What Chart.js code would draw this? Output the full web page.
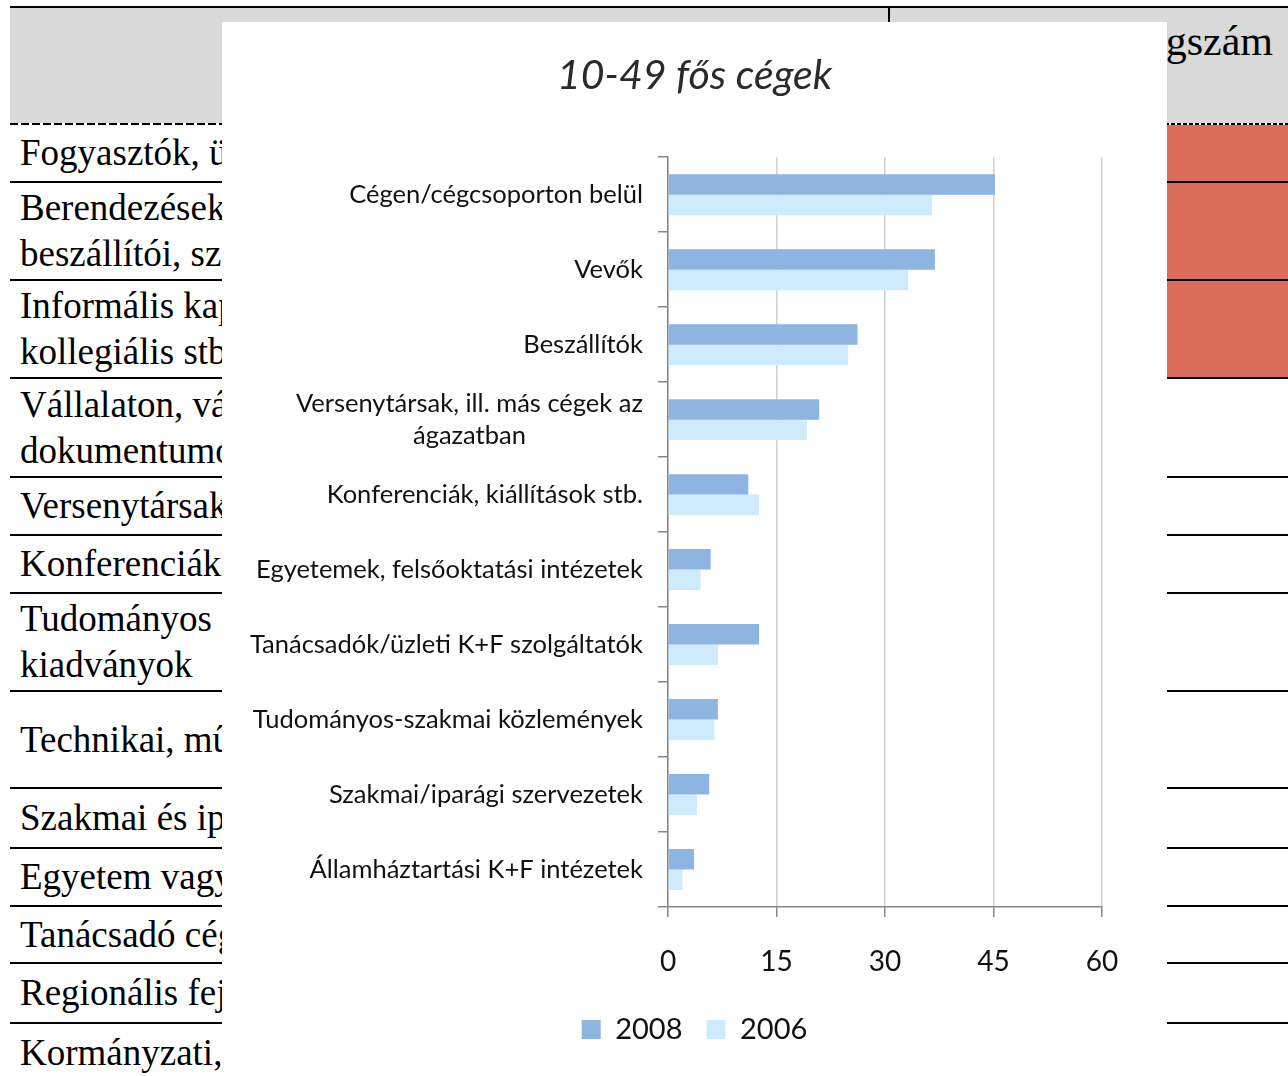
<!DOCTYPE html>
<html lang="hu">
<head>
<meta charset="utf-8">
<title>10-49 fős cégek</title>
<script src="https://cdn.jsdelivr.net/npm/chart.js@4.4.1/dist/chart.umd.min.js"></script>
<style>
  html, body { margin: 0; padding: 0; background: #fff; }
  body {
    width: 1288px; height: 1076px; position: relative; overflow: hidden;
    font-family: "Liberation Serif", "Times New Roman", serif; color: #000;
  }
  .head { position: absolute; left: 10px; right: 0; top: 8px; height: 115px; background: #d9d9d9; }
  .topline { position: absolute; left: 10px; right: 0; top: 6px; height: 2px; background: #000; }
  .vline { position: absolute; left: 888px; top: 6px; width: 2px; height: 20px; background: #000; }
  .dash-l { position: absolute; left: 10px; width: 879px; top: 123px; height: 2px;
    background: repeating-linear-gradient(to right, #000 0 8px, transparent 8px 11px); }
  .dash-r { position: absolute; left: 889px; right: 0; top: 123px; height: 2px;
    background: repeating-linear-gradient(to right, #000 0 4px, transparent 4px 6px); }
  .red { position: absolute; left: 889px; right: 0; top: 125px; height: 253px; background: #db6b5a; }
  .hline { position: absolute; left: 10px; right: 0; height: 2px; background: #000; }
  .cell {
    position: absolute; left: 10px; width: 212px; overflow: hidden;
    display: flex; flex-direction: column; justify-content: center;
    padding-left: 10px; box-sizing: border-box; white-space: nowrap;
    font-size: 37px; line-height: 46px;
  }
  .hdr {
    position: absolute; left: 1167px; top: 17px; width: 121px; overflow: hidden;
    white-space: nowrap; font-size: 42px; line-height: 48px;
    direction: rtl; text-align: left;
  }
  .hdr span { direction: ltr; unicode-bidi: embed; padding-right: 15px; display: inline-block; }
  #panel { position: absolute; left: 222px; top: 22px; width: 945px; height: 1054px; background: #fff; }
</style>
</head>
<body>
<div class="topline"></div>
<div class="head"></div>
<div class="vline"></div>
<div class="dash-l"></div>
<div class="dash-r"></div>
<div class="red"></div>
<div class="hdr"><span>Cégszám</span></div>

<div class="hline" style="top:181px"></div>
<div class="hline" style="top:279px"></div>
<div class="hline" style="top:377px"></div>
<div class="hline" style="top:476px"></div>
<div class="hline" style="top:534px"></div>
<div class="hline" style="top:592px"></div>
<div class="hline" style="top:690px"></div>
<div class="hline" style="top:787px"></div>
<div class="hline" style="top:847px"></div>
<div class="hline" style="top:905px"></div>
<div class="hline" style="top:962px"></div>
<div class="hline" style="top:1022px"></div>

<div class="cell" style="top:125px;height:56px">Fogyasztók, ügyfelek</div>
<div class="cell" style="top:183px;height:96px">Berendezések, anyagok<br>beszállítói, szoftverek</div>
<div class="cell" style="top:281px;height:96px">Informális kapcsolatok,<br>kollegiális stb.</div>
<div class="cell" style="top:379px;height:97px">Vállalaton, vállalatcsoporton belüli<br>dokumentumok</div>
<div class="cell" style="top:478px;height:56px">Versenytársak</div>
<div class="cell" style="top:536px;height:56px">Konferenciák, kiállítások</div>
<div class="cell" style="top:594px;height:96px">Tudományos folyóiratok,<br>kiadványok</div>
<div class="cell" style="top:692px;height:95px">Technikai, műszaki szabványok</div>
<div class="cell" style="top:789px;height:58px">Szakmai és iparági szövetségek</div>
<div class="cell" style="top:849px;height:56px">Egyetem vagy felsőoktatási intézmény</div>
<div class="cell" style="top:907px;height:55px">Tanácsadó cégek</div>
<div class="cell" style="top:964px;height:58px">Regionális fejlesztési ügynökségek</div>
<div class="cell" style="top:1024px;height:58px">Kormányzati, közfinanszírozású intézetek</div>

<div id="panel"><canvas id="chart" width="945" height="1054"></canvas></div>

<script>
const TITLE = '10-49 fős cégek';

const CATEGORIES = [
  'Cégen/cégcsoporton belül',
  'Vevők',
  'Beszállítók',
  ['Versenytársak, ill. más cégek az', 'ágazatban'],
  'Konferenciák, kiállítások stb.',
  'Egyetemek, felsőoktatási intézetek',
  'Tanácsadók/üzleti K+F szolgáltatók',
  'Tudományos-szakmai közlemények',
  'Szakmai/iparági szervezetek',
  'Államháztartási K+F intézetek',
];

const SERIES_2008 = [45.2, 36.9, 26.2, 20.9, 11.1, 5.9, 12.6, 6.9, 5.7, 3.6];
const SERIES_2006 = [36.5, 33.2, 24.9, 19.2, 12.6, 4.5, 6.9, 6.4, 4.0, 2.0];

const X_TICKS = [0, 15, 30, 45, 60];

const LABEL_FONT = 'Lato';

// Excel centres the lines of a wrapped category label; Chart.js right-aligns them.
const centerMultiline = {
  id: 'centerMultiline',
  beforeDraw(chart) {
    const scale = chart.scales.y;
    const items = scale.getLabelItems();
    const ctx = chart.ctx;
    ctx.save();
    ctx.font = Chart.helpers.toFont(scale.options.ticks.font).string;
    items.forEach((item) => {
      if (!Array.isArray(item.label) || item._centered) return;
      const w = Math.max(...item.label.map((l) => ctx.measureText(l).width));
      item.options.textAlign = 'center';
      item.options.translation[0] -= w / 2;
      item._centered = true;
    });
    ctx.restore();
  },
};

new Chart(document.getElementById('chart'), {
  type: 'bar',
  data: {
    labels: CATEGORIES,
    datasets: [
      {
        label: '2008',
        data: SERIES_2008,
        backgroundColor: '#8eb4e2',
        borderWidth: 0,
        categoryPercentage: 0.546,
        barPercentage: 1,
      },
      {
        label: '2006',
        data: SERIES_2006,
        backgroundColor: '#cdebfc',
        borderWidth: 0,
        categoryPercentage: 0.546,
        barPercentage: 1,
      },
    ],
  },
  options: {
    indexAxis: 'y',
    responsive: false,
    animation: false,
    layout: { padding: { left: 20, right: 20, top: 0, bottom: 22 } },
    plugins: {
      title: {
        display: true,
        text: TITLE,
        color: '#2a2a2a',
        font: { family: LABEL_FONT, size: 41, style: 'italic', weight: 'normal' },
        padding: { top: 29, bottom: 57 },
      },
      legend: {
        position: 'bottom',
        labels: {
          boxWidth: 19,
          boxHeight: 19,
          padding: 24,
          color: '#111',
          font: { family: LABEL_FONT, size: 29 },
        },
      },
      tooltip: { enabled: false },
    },
    scales: {
      x: {
        min: 0,
        max: 60,
        afterBuildTicks: (scale) => {
          scale.ticks = X_TICKS.map((v) => ({ value: v }));
        },
        afterFit: (scale) => {
          scale.height = 84;
        },
        grid: { color: '#cfcfcf', lineWidth: 1.5, tickColor: '#868686', tickLength: 10 },
        border: { color: '#868686', width: 1.5 },
        ticks: { padding: 28, color: '#111', font: { family: LABEL_FONT, size: 28 } },
      },
      y: {
        afterFit: (scale) => {
          scale.width = 426;
        },
        grid: { drawOnChartArea: false, tickLength: 10, color: '#868686', lineWidth: 1.5 },
        border: { color: '#868686', width: 1.5 },
        ticks: {
          padding: 15,
          color: '#111',
          font: { family: LABEL_FONT, size: 25.5, lineHeight: 1.25 },
        },
      },
      // empty right-hand spacer so the plot ends where the reference does
      // while the title and legend stay centred on the panel
      spacer: {
        type: 'category',
        position: 'right',
        grid: { display: false },
        border: { display: false },
        ticks: { display: false },
        afterFit: (scale) => {
          scale.width = 45;
        },
      },
    },
  },
  plugins: [centerMultiline],
});
</script>
</body>
</html>
